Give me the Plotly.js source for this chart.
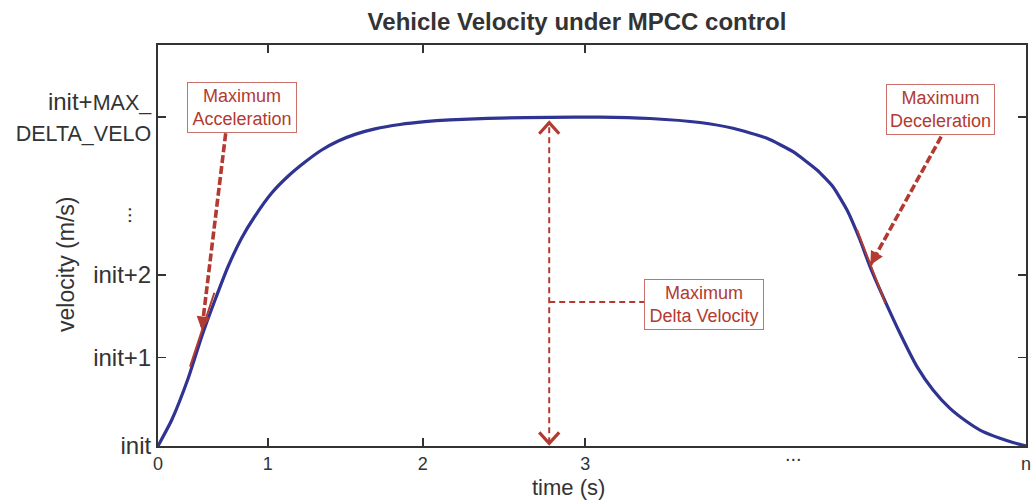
<!DOCTYPE html>
<html>
<head>
<meta charset="utf-8">
<script src="https://cdn.plot.ly/plotly-3.0.1.min.js"></script>
<style>
  html, body { margin: 0; padding: 0; background: #fff; }
  #chart { width: 1031px; height: 501px; }
</style>
</head>
<body>
<div id="chart"></div>
<script>
// ---------- data (axis units) ----------
const timeAxis = [0, 0.158, 0.349, 0.503, 0.657, 0.810, 0.964, 1.118, 1.310, 1.501, 1.694, 1.886, 2.077, 2.270,
  2.500, 2.788, 3.076, 3.364, 3.652, 3.940, 4.516, 5.092, 5.668, 6.244, 6.624, 7.016, 7.316, 7.592, 7.776,
  7.938, 8.088, 8.203, 8.353, 8.548, 8.744, 8.929, 9.124, 9.320, 9.505, 9.700, 9.850, 10];
const velocity = [0, 0.648, 1.696, 2.726, 3.641, 4.489, 5.187, 5.736, 6.309, 6.733, 7.082, 7.382, 7.606, 7.771,
  7.908, 8.017, 8.087, 8.132, 8.160, 8.177, 8.195, 8.202, 8.167, 8.067, 7.923, 7.673, 7.339, 6.883, 6.466,
  5.885, 5.137, 4.471, 3.723, 2.810, 1.978, 1.397, 0.940, 0.606, 0.357, 0.192, 0.087, 0];

const xTickVals = [0, 1.265, 3.051, 4.922, 9.999];
const xTickText = ['0', '1', '2', '3', 'n'];
const yTickVals = [0, 2.202, 4.264, 8.204];
const yTickText = ['init', 'init+1', 'init+2',
  'init+<span style="font-size:21.5px">MAX_</span><br><span style="font-size:21.5px">DELTA_VELO</span>'];

// tangent segments (max acceleration / max deceleration)
const accTangentX = [0.369, 0.649];
const accTangentY = [1.978, 3.823];
const decTangentX = [8.054, 8.380];
const decTangentY = [5.387, 3.559];

// pointer lines from label boxes to tangent points
const accPointerX = [0.780, 0.504];
const accPointerY = [7.798, 2.893];
const decPointerX = [9.023, 8.207];
const decPointerY = [7.713, 4.514];

// delta velocity double arrow and leader
const deltaArrowX = [4.507, 4.507];
const deltaArrowY = [0.067, 8.062];
const deltaLeaderX = [4.507, 5.602];
const deltaLeaderY = [3.591, 3.591];

// label boxes
const labelText = ['Maximum<br>Acceleration', 'Maximum<br>Deceleration', 'Maximum<br>Delta Velocity'];
const labelX = [0.968, 9.020, 6.294];
const labelY = [8.441, 8.404, 3.529];
const labelW = [106, 105, 116];

// ---------- styles ----------
const BLUE = '#2f3391';
const RED = '#b23a31';
const BOXRED = '#c9706a';
const AXIS = '#333333';
const SANS = '"Liberation Sans", Arial, Helvetica, sans-serif';

const traces = [
  { x: timeAxis, y: velocity, mode: 'lines', line: { color: BLUE, width: 3.2, shape: 'spline', smoothing: 0.5 },
    cliponaxis: false, hoverinfo: 'skip', showlegend: false },
  { x: accTangentX, y: accTangentY, mode: 'lines', line: { color: RED, width: 2 }, hoverinfo: 'skip', showlegend: false },
  { x: decTangentX, y: decTangentY, mode: 'lines', line: { color: RED, width: 2 }, hoverinfo: 'skip', showlegend: false },
  { x: accPointerX, y: accPointerY, mode: 'lines', line: { color: RED, width: 3.6, dash: '8px,3px' },
    hoverinfo: 'skip', showlegend: false },
  { x: decPointerX, y: decPointerY, mode: 'lines', line: { color: RED, width: 3.6, dash: '8px,3px' },
    hoverinfo: 'skip', showlegend: false },
  { x: deltaArrowX, y: deltaArrowY, mode: 'lines', line: { color: RED, width: 2, dash: '6px,4px' },
    hoverinfo: 'skip', showlegend: false },
  { x: deltaLeaderX, y: deltaLeaderY, mode: 'lines', line: { color: RED, width: 2, dash: '6px,4px' },
    hoverinfo: 'skip', showlegend: false }
];

const chevron = (x, y, dir) => ({
  type: 'path', xref: 'x', yref: 'y', xsizemode: 'pixel', ysizemode: 'pixel', xanchor: x, yanchor: y,
  path: dir > 0 ? 'M -10,-11 L 0,0 L 10,-11' : 'M -10,11 L 0,0 L 10,11',
  line: { color: RED, width: 3.2 }
});

// small filled arrowheads at the tips of the pointer lines
const HEAD_FRAC = [0.05, 0.07];
const headAnn = (px, py, f) => ({
  x: px[1], y: py[1], ax: px[1] + f * (px[0] - px[1]), ay: py[1] + f * (py[0] - py[1]),
  xref: 'x', yref: 'y', axref: 'x', ayref: 'y', text: '', showarrow: true,
  arrowhead: 2, arrowsize: 0.9, arrowwidth: 3, arrowcolor: RED, standoff: 0, startstandoff: 0
});

const annotations = labelText.map((t, i) => ({
  x: labelX[i], y: labelY[i], xref: 'x', yref: 'y', text: t, showarrow: false,
  font: { family: SANS, size: 18, color: RED },
  bordercolor: BOXRED, borderwidth: 1, borderpad: 1, bgcolor: '#ffffff',
  width: labelW[i], height: 47, align: 'center'
}));
annotations.push(
  headAnn(accPointerX, accPointerY, HEAD_FRAC[0]),
  headAnn(decPointerX, decPointerY, HEAD_FRAC[1]),
  { xref: 'paper', yref: 'paper', x: (568 - 158) / 868, y: (446 - 487) / 401, text: 'time (s)', showarrow: false,
    font: { family: SANS, size: 22, color: AXIS }, xanchor: 'center', yanchor: 'middle' },
  { xref: 'paper', yref: 'paper', x: (66 - 158) / 868, y: (446 - 265) / 401, text: 'velocity (m/s)', showarrow: false,
    textangle: -90, font: { family: SANS, size: 23, color: AXIS }, xanchor: 'center', yanchor: 'middle' },
  { xref: 'x', yref: 'paper', x: 7.32, y: (446 - 454) / 401, text: '...', showarrow: false,
    font: { family: SANS, size: 20, color: AXIS }, xanchor: 'center', yanchor: 'middle' },
  { xref: 'paper', yref: 'y', x: (123 - 158) / 868, y: 5.76, text: '...', showarrow: false, textangle: -90,
    font: { family: SANS, size: 21, color: AXIS }, xanchor: 'center', yanchor: 'middle' }
);

const layout = {
  width: 1031, height: 501,
  margin: { l: 158, r: 5, t: 45, b: 55, pad: 0 },
  paper_bgcolor: '#ffffff', plot_bgcolor: '#ffffff',
  showlegend: false,
  title: { text: '<b>Vehicle Velocity under MPCC control</b>', xref: 'container', yref: 'container',
    x: 577 / 1031, y: 1 - 22 / 501, xanchor: 'center', yanchor: 'middle',
    font: { family: SANS, size: 24, color: AXIS } },
  xaxis: {
    range: [0, 10], tickmode: 'array', tickvals: xTickVals, ticktext: xTickText,
    ticks: 'inside', ticklen: 8, tickwidth: 1.5, tickcolor: AXIS, ticklabeloverflow: 'allow',
    showline: true, linecolor: AXIS, linewidth: 2, mirror: 'ticks',
    showgrid: false, zeroline: false, fixedrange: true,
    tickfont: { family: SANS, size: 18, color: AXIS }, automargin: false
  },
  yaxis: {
    range: [0, 10], tickmode: 'array', tickvals: yTickVals, ticktext: yTickText,
    ticks: 'inside', ticklen: 8, tickwidth: 1.5, tickcolor: AXIS,
    showline: true, linecolor: AXIS, linewidth: 2, mirror: 'ticks',
    showgrid: false, zeroline: false, fixedrange: true,
    tickfont: { family: SANS, size: 24, color: AXIS }, automargin: false
  },
  shapes: [chevron(deltaArrowX[1], deltaArrowY[1], 1), chevron(deltaArrowX[0], deltaArrowY[0], -1)],
  annotations: annotations
};

Plotly.newPlot('chart', traces, layout, { staticPlot: true, displayModeBar: false });
</script>
</body>
</html>
